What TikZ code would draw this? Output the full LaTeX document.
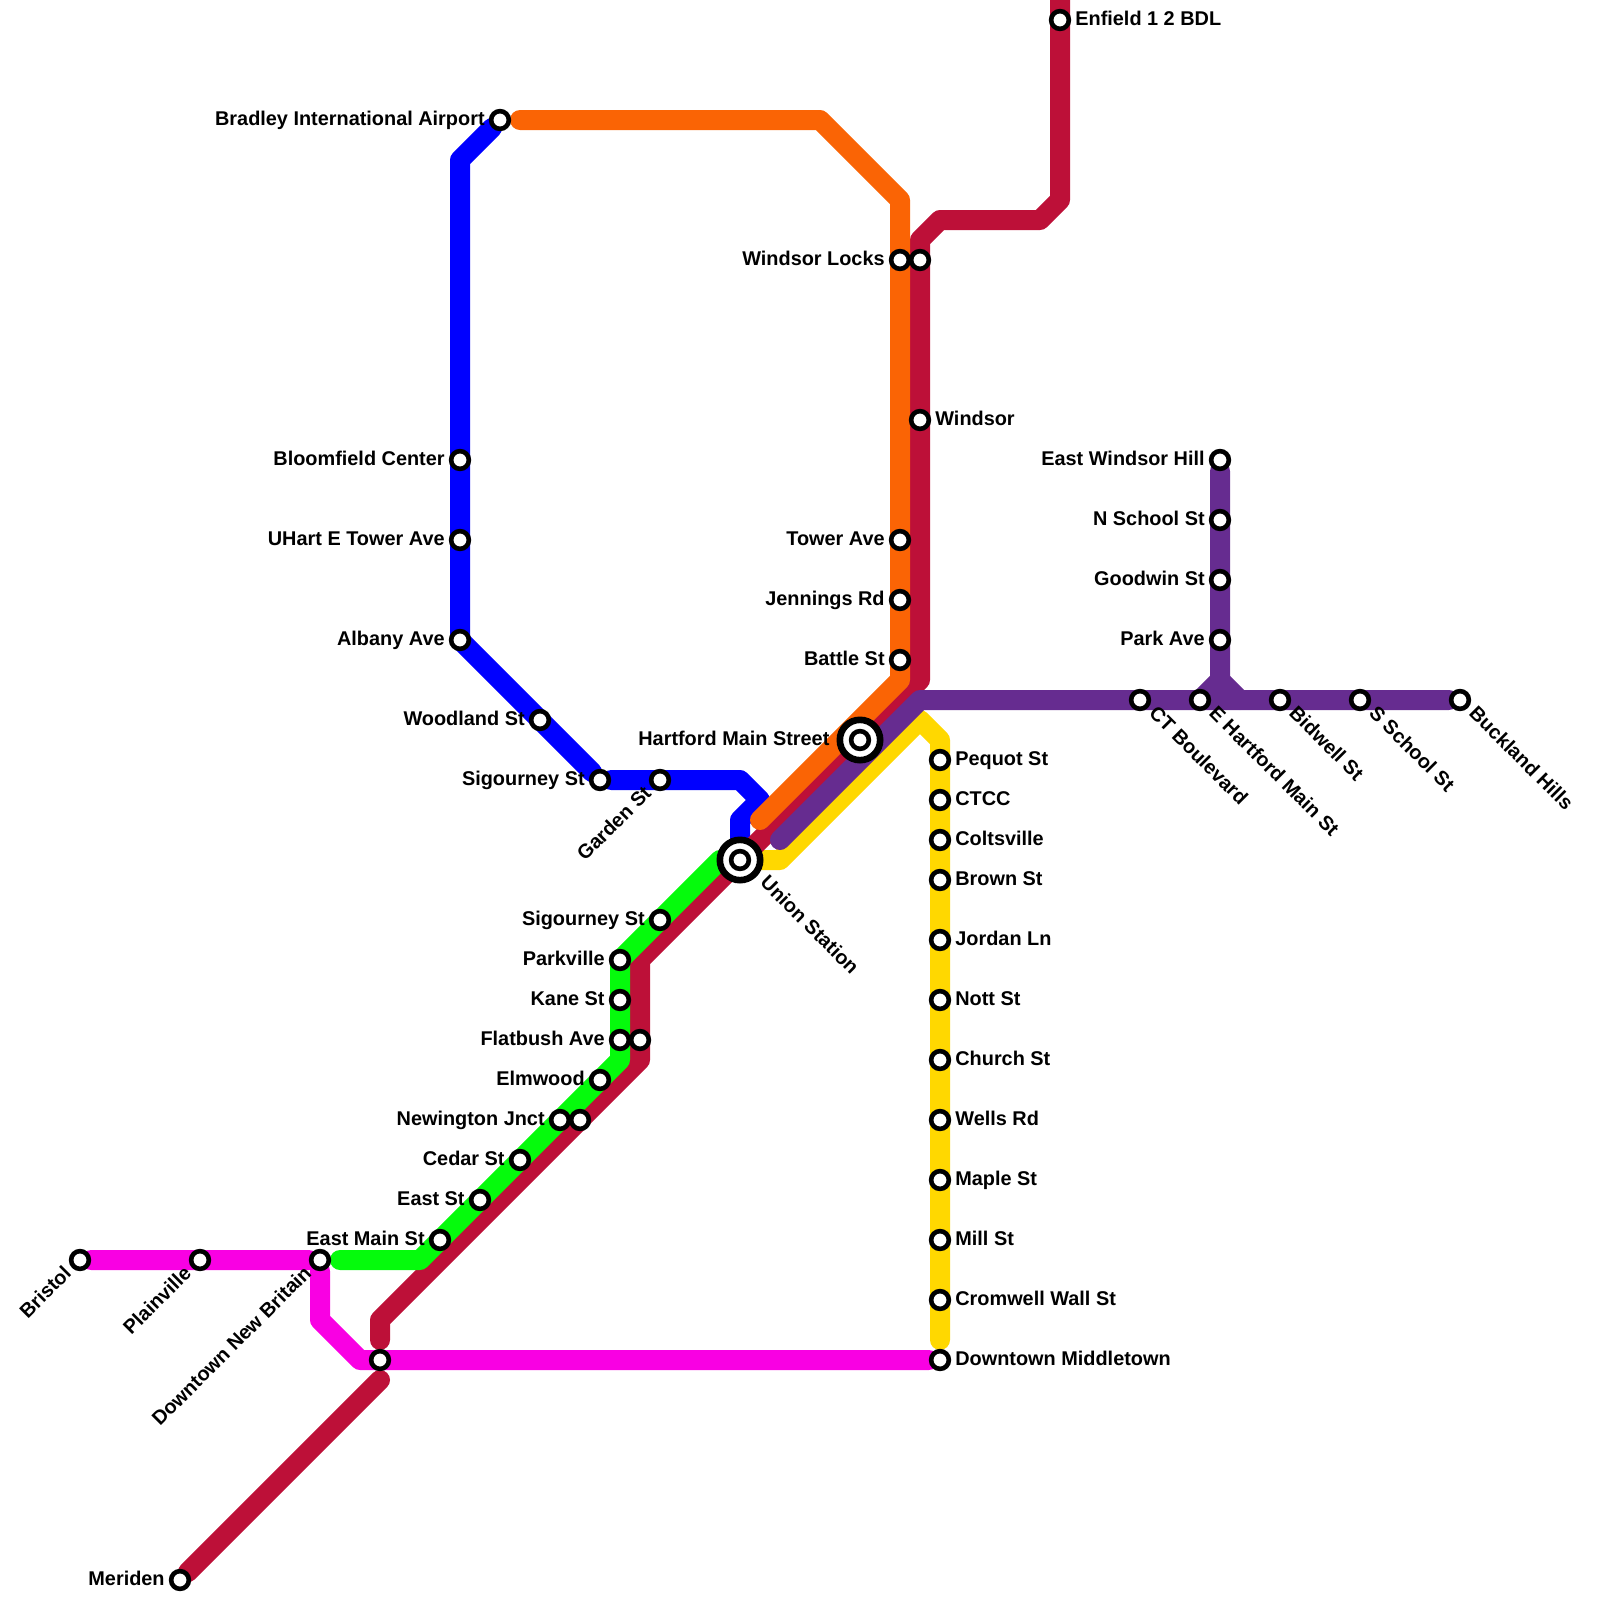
\documentclass[tikz,border=0pt]{standalone}
\usepackage{fontspec}
\setmainfont{Liberation Sans}
\usepackage{xcolor}
\usetikzlibrary{backgrounds}

\definecolor{lineblue}{HTML}{0000FF}
\definecolor{lineorange}{HTML}{FA6405}
\definecolor{linecrimson}{HTML}{BD1038}
\definecolor{linepurple}{HTML}{662C90}
\definecolor{lineyellow}{HTML}{FFD800}
\definecolor{linegreen}{HTML}{05FB0C}
\definecolor{linemagenta}{HTML}{F900E3}

\begin{document}
\begin{tikzpicture}[
  x=.25cm, y=-.25cm,
  rail/.style={line width=.25cm, line cap=round, line join=round},
  stn/.style={circle, draw=black, fill=white, line width=.0575cm, minimum size=.222cm, inner sep=0pt},
  hub/.style={circle, draw=black, fill=white, line width=.083cm, minimum size=.504cm, inner sep=0pt},
  lbl/.style={font=\bfseries\fontsize{7.07}{8}\selectfont, inner sep=0pt, text height=.75em, text depth=0pt},
  lblleft/.style={lbl, anchor=east, xshift=-.185cm, yshift=.06cm},
  lblright/.style={lbl, anchor=west, xshift=.185cm, yshift=.06cm},
  lblup/.style={lbl, anchor=east, rotate=45, xshift=-.19cm, yshift=.07cm},
  lbldown/.style={lbl, anchor=west, rotate=-45, xshift=.195cm, yshift=.075cm}
]
\clip (0,0) rectangle (80,80);

%% Stations
\foreach \id/\x/\y/\txt in {
  bradley/25/6/Bradley International Airport, bloomfield/23/23/Bloomfield Center,
  uhart/23/27/UHart E Tower Ave, albany/23/32/Albany Ave, woodland/27/36/Woodland St,
  sigourney/30/39/Sigourney St, sigourneyg/33/46/Sigourney St, parkville/31/48/Parkville,
  kane/31/50/Kane St, flatbush/31/52/Flatbush Ave, elmwood/30/54/Elmwood,
  newington/28/56/Newington Jnct, cedar/26/58/Cedar St, eastst/24/60/East St,
  eastmain/22/62/East Main St, meriden/9/79/Meriden, locks/45/13/Windsor Locks,
  tower/45/27/Tower Ave, jennings/45/30/Jennings Rd, battle/45/33/Battle St,
  ewindsor/61/23/East Windsor Hill, nschool/61/26/N School St,
  goodwin/61/29/Goodwin St, parkave/61/32/Park Ave} {
  \node[stn] (\id) at (\x,\y) {};
  \node[lblleft] (\id-lbl) at (\id) {\txt};
}
\foreach \id/\x/\y/\txt in {
  enfield/53/1/Enfield 1 2 BDL, windsor/46/21/Windsor, pequot/47/38/Pequot St,
  ctcc/47/40/CTCC, coltsville/47/42/Coltsville, brown/47/44/Brown St,
  jordan/47/47/Jordan Ln, nott/47/50/Nott St, church/47/53/Church St,
  wells/47/56/Wells Rd, maple/47/59/Maple St, mill/47/62/Mill St,
  cromwell/47/65/Cromwell Wall St, middletown/47/68/Downtown Middletown} {
  \node[stn] (\id) at (\x,\y) {};
  \node[lblright] (\id-lbl) at (\id) {\txt};
}
\foreach \id/\x/\y/\txt in {
  bristol/4/63/Bristol, plainville/10/63/Plainville,
  newbritain/16/63/Downtown New Britain, garden/33/39/Garden St} {
  \node[stn] (\id) at (\x,\y) {};
  \node[lblup] (\id-lbl) at (\id) {\txt};
}
\foreach \id/\x/\y/\txt in {
  ctblvd/57/35/CT Boulevard, ehartford/60/35/E Hartford Main St, bidwell/64/35/Bidwell St,
  sschool/68/35/S School St, buckland/73/35/Buckland Hills} {
  \node[stn] (\id) at (\x,\y) {};
  \node[lbldown] (\id-lbl) at (\id) {\txt};
}
\node[stn] (locksb) at (46,13) {};
\node[stn] (flatbushb) at (32,52) {};
\node[stn] (newingtonb) at (29,56) {};
\node[stn] (downtown) at (19,68) {};

%% Interchanges
\node[hub] (hartfordo) at (43,37) {};
\node[stn] (hartford) at (43,37) {};
\node[lbl, anchor=east, xshift=-.375cm, yshift=.06cm] (hartford-lbl) at (hartford) {Hartford Main Street};
\node[hub] (uniono) at (37,43) {};
\node[stn] (union) at (37,43) {};
\node[lbl, anchor=west, rotate=-45, xshift=.375cm, yshift=.09cm] (union-lbl) at (union) {Union Station};

%% Corners
\coordinate (b1) at (23,8);
\coordinate (b2) at (23,32);
\coordinate (b3) at (37,39);
\coordinate (b4) at (38,40);
\coordinate (b5) at (37,41);
\coordinate (o1) at (26,6);
\coordinate (o2) at (41,6);
\coordinate (o3) at (45,10);
\coordinate (o4) at (45,34);
\coordinate (o5) at (38,41);
\coordinate (c0) at (53,0);
\coordinate (c1) at (53,10);
\coordinate (c2) at (52,11);
\coordinate (c3) at (47,11);
\coordinate (c4) at (46,12);
\coordinate (c5) at (46,34);
\coordinate (c6) at (32,48);
\coordinate (c7) at (32,53);
\coordinate (c8) at (19,66);
\coordinate (c9) at (19,67);
\coordinate (c10) at (19,69);
\coordinate (p1) at (39,42);
\coordinate (p2) at (46,35);
\coordinate (p3) at (61,34);
\coordinate (p4) at (60,35);
\coordinate (p5) at (62,35);
\coordinate (y1) at (47,67);
\coordinate (y2) at (47,37);
\coordinate (y3) at (46,36);
\coordinate (y4) at (39,43);
\coordinate (g1) at (17,63);
\coordinate (g2) at (21,63);
\coordinate (g3) at (31,53);
\coordinate (g4) at (31,48);
\coordinate (g5) at (36,43);
\coordinate (m1) at (16,66);
\coordinate (m2) at (18,68);

%% Lines
\begin{scope}[on background layer]
\draw[rail, linemagenta] (bristol) -- (newbritain) -- (m1) -- (m2) -- (middletown);
\draw[rail, lineblue] (bradley) -- (b1) -- (b2) -- (sigourney) -- (b3) -- (b4) -- (b5) -- (union);
\draw[rail, lineyellow] (y1) -- (y2) -- (y3) -- (y4) -- (union);
\draw[rail, linecrimson] (c0) -- (c1) -- (c2) -- (c3) -- (c4) -- (c5) -- (c6) -- (c7) -- (c8) -- (c9);
\draw[rail, linecrimson] (c10) -- (meriden);
\draw[rail, linegreen] (g1) -- (g2) -- (g3) -- (g4) -- (g5) -- (union);
\draw[rail, lineorange] (o1) -- (o2) -- (o3) -- (o4) -- (o5);
\draw[rail, linepurple] (p1) -- (p2) -- (buckland);
\draw[rail, linepurple] (ewindsor) -- (p3) -- (p4);
\draw[rail, linepurple] (p3) -- (p5);
\end{scope}

\end{tikzpicture}
\end{document}
